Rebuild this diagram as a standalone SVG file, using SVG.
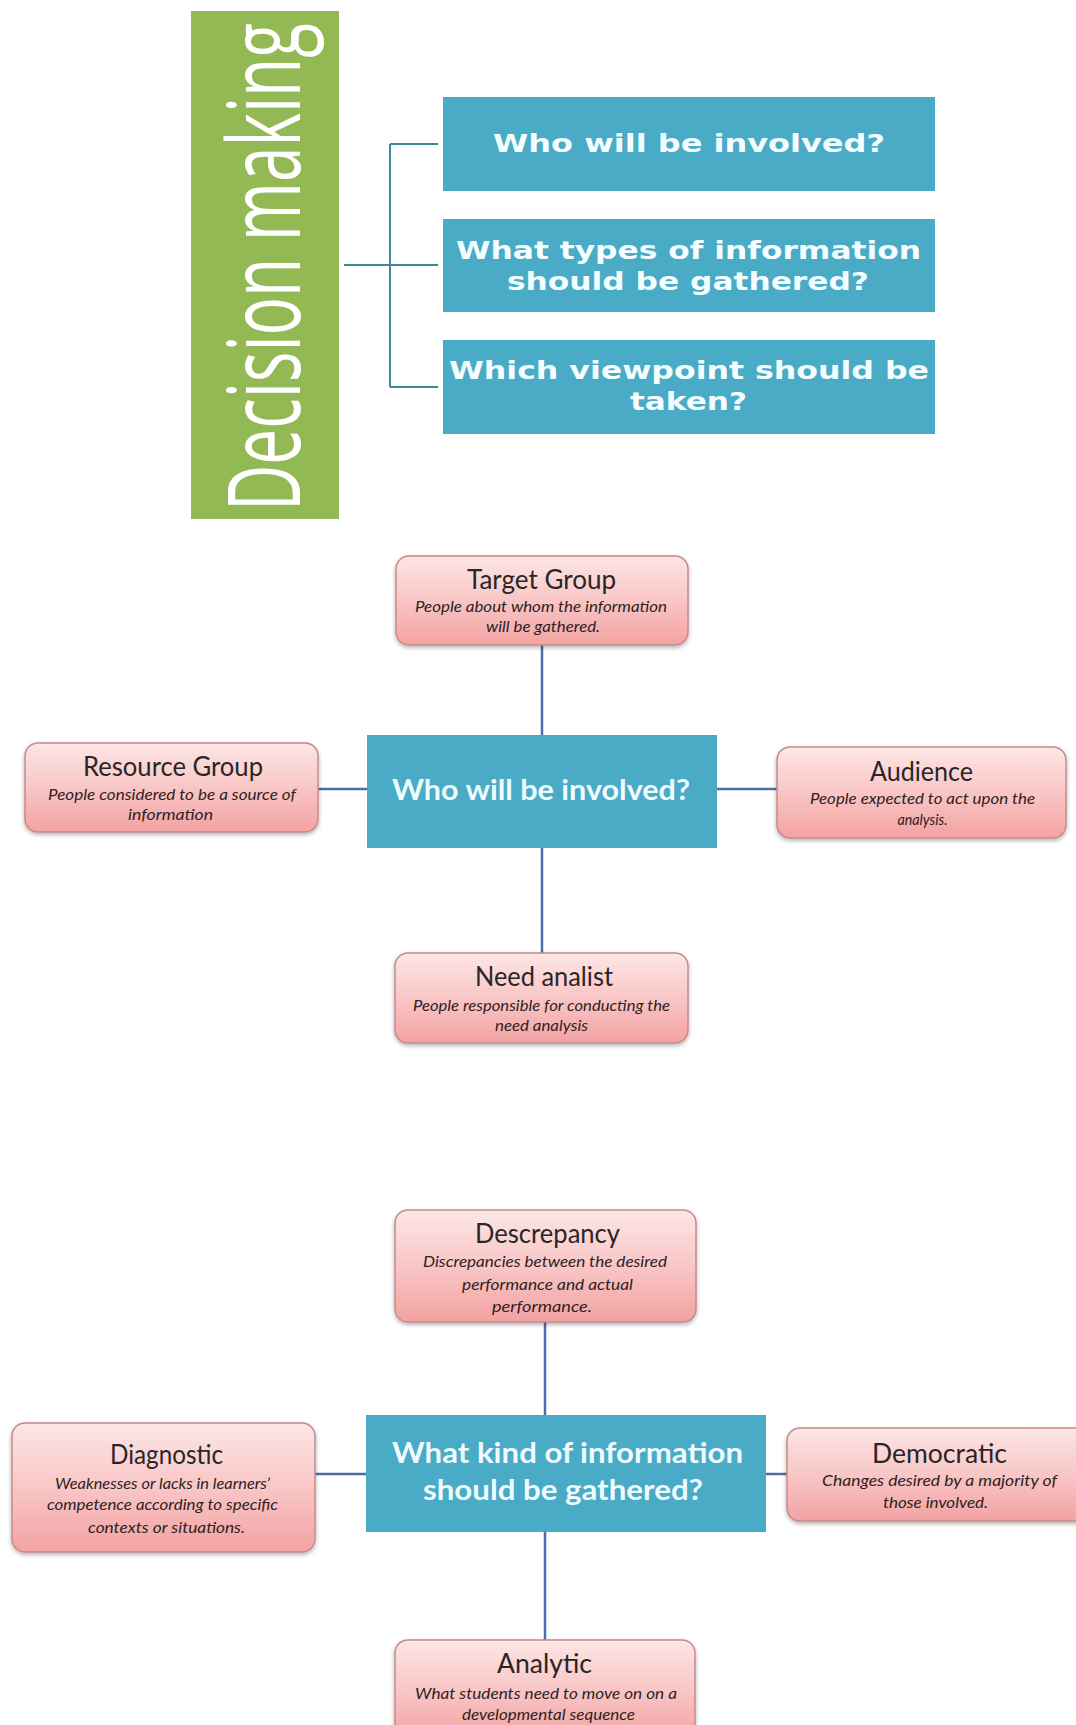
<svg xmlns="http://www.w3.org/2000/svg" width="1076" height="1725" viewBox="0 0 1076 1725">
<defs>
<linearGradient id="pink" x1="0" y1="0" x2="0" y2="1">
<stop offset="0" stop-color="#fde6e6"/>
<stop offset="0.5" stop-color="#f9c6c6"/>
<stop offset="1" stop-color="#f3a2a2"/>
</linearGradient>
<filter id="sh" x="-10%" y="-10%" width="120%" height="135%">
<feDropShadow dx="0" dy="2" stdDeviation="2" flood-color="#000" flood-opacity="0.3"/>
</filter>
<style>
.pbox{fill:url(#pink);stroke:#c68a8a;stroke-width:1.5;filter:url(#sh)}
.bbox{fill:#4aabc7}
.ttl{font-family:Lato,"Open Sans",sans-serif;font-size:27px;fill:#2a2626;text-anchor:middle}
.sub{font-family:Lato,"Open Sans",sans-serif;font-style:italic;font-size:14.5px;fill:#2e2222;text-anchor:middle}
.ctr{font-family:Lato,"Open Sans",sans-serif;font-weight:bold;font-size:29px;fill:#eefcff;text-anchor:middle}
.top{font-family:"DejaVu Sans",Verdana,sans-serif;font-weight:bold;font-size:24px;fill:#f4fdff;text-anchor:middle}
.big{font-family:"Open Sans",Lato,sans-serif;font-size:101px;fill:#ffffff}
.c1{stroke:#3f8a9a;stroke-width:2;fill:none}
.c2{stroke:#4d6ea6;stroke-width:2.5;fill:none}
</style>
</defs>
<rect width="1076" height="1725" fill="#ffffff"/>

<g id="decision-making">
<rect x="191" y="11" width="148" height="508" fill="#93b955"/>
<text class="big" transform="translate(300,511) rotate(-90)" x="0" y="0" textLength="488" lengthAdjust="spacingAndGlyphs">Decision making</text>
</g>

<g id="connectors">
<path class="c1" d="M344,265 H438 M390,144 V387 M390,144 H438 M390,387 H438"/>
<path class="c2" d="M542,645 V735 M542,848 V953 M318,789 H367 M717,789 H777"/>
<path class="c2" d="M545,1322 V1415 M545,1532 V1640 M315,1474 H366 M766,1474 H787"/>
</g>

<g id="q1">
<rect class="bbox" x="443" y="97" width="492" height="94"/>
<text class="top" x="689" y="152" textLength="392" lengthAdjust="spacingAndGlyphs">Who will be involved?</text>
</g>
<g id="q2">
<rect class="bbox" x="443" y="219" width="492" height="93"/>
<text class="top" x="688.5" y="259" textLength="465" lengthAdjust="spacingAndGlyphs">What types of information</text>
<text class="top" x="688" y="290" textLength="362" lengthAdjust="spacingAndGlyphs">should be gathered?</text>
</g>
<g id="q3">
<rect class="bbox" x="443" y="340" width="492" height="94"/>
<text class="top" x="689" y="379" textLength="480" lengthAdjust="spacingAndGlyphs">Which viewpoint should be</text>
<text class="top" x="688.5" y="410" textLength="117" lengthAdjust="spacingAndGlyphs">taken?</text>
</g>

<g id="who-center">
<rect class="bbox" x="367" y="735" width="350" height="113"/>
<text class="ctr" x="541" y="800" textLength="298" lengthAdjust="spacingAndGlyphs">Who will be involved?</text>
</g>

<g id="target-group">
<rect class="pbox" x="396" y="556" width="292" height="89" rx="13"/>
<text class="ttl" x="541.5" y="589" textLength="149" lengthAdjust="spacingAndGlyphs">Target Group</text>
<text class="sub" x="541" y="612" textLength="252" lengthAdjust="spacingAndGlyphs">People about whom the information</text>
<text class="sub" x="543" y="632" textLength="114" lengthAdjust="spacingAndGlyphs">will be gathered.</text>
</g>

<g id="resource-group">
<rect class="pbox" x="25" y="743" width="293" height="89" rx="13"/>
<text class="ttl" x="173" y="776" textLength="180" lengthAdjust="spacingAndGlyphs">Resource Group</text>
<text class="sub" x="172" y="800" textLength="248" lengthAdjust="spacingAndGlyphs">People considered to be a source of</text>
<text class="sub" x="170.5" y="820" textLength="85" lengthAdjust="spacingAndGlyphs">information</text>
</g>

<g id="audience">
<rect class="pbox" x="777" y="747" width="289" height="91" rx="13"/>
<text class="ttl" x="921.5" y="781" textLength="103" lengthAdjust="spacingAndGlyphs">Audience</text>
<text class="sub" x="922.5" y="804" textLength="225" lengthAdjust="spacingAndGlyphs">People expected to act upon the</text>
<text class="sub" x="922.5" y="825" textLength="50" lengthAdjust="spacingAndGlyphs">analysis.</text>
</g>

<g id="need-analist">
<rect class="pbox" x="395" y="953" width="293" height="90" rx="13"/>
<text class="ttl" x="544" y="986" textLength="138" lengthAdjust="spacingAndGlyphs">Need analist</text>
<text class="sub" x="541.5" y="1011" textLength="257" lengthAdjust="spacingAndGlyphs">People responsible for conducting the</text>
<text class="sub" x="541.5" y="1031" textLength="93" lengthAdjust="spacingAndGlyphs">need analysis</text>
</g>

<g id="what-center">
<rect class="bbox" x="366" y="1415" width="400" height="117"/>
<text class="ctr" x="567.5" y="1463" textLength="351" lengthAdjust="spacingAndGlyphs">What kind of information</text>
<text class="ctr" x="563" y="1500" textLength="280" lengthAdjust="spacingAndGlyphs">should be gathered?</text>
</g>

<g id="descrepancy">
<rect class="pbox" x="395" y="1210" width="301" height="112" rx="13"/>
<text class="ttl" x="547.5" y="1243" textLength="145" lengthAdjust="spacingAndGlyphs">Descrepancy</text>
<text class="sub" x="545" y="1267" textLength="244" lengthAdjust="spacingAndGlyphs">Discrepancies between the desired</text>
<text class="sub" x="547.5" y="1290" textLength="171" lengthAdjust="spacingAndGlyphs">performance and actual</text>
<text class="sub" x="542" y="1312" textLength="100" lengthAdjust="spacingAndGlyphs">performance.</text>
</g>

<g id="diagnostic">
<rect class="pbox" x="12" y="1423" width="303" height="129" rx="13"/>
<text class="ttl" x="166.5" y="1464" textLength="113" lengthAdjust="spacingAndGlyphs">Diagnostic</text>
<text class="sub" x="162.5" y="1489" textLength="215" lengthAdjust="spacingAndGlyphs">Weaknesses or lacks in learners’</text>
<text class="sub" x="162.5" y="1510" textLength="231" lengthAdjust="spacingAndGlyphs">competence according to specific</text>
<text class="sub" x="166.5" y="1533" textLength="157" lengthAdjust="spacingAndGlyphs">contexts or situations.</text>
</g>

<g id="democratic">
<rect class="pbox" x="787" y="1428" width="306" height="93" rx="13"/>
<text class="ttl" x="939.5" y="1463" textLength="135" lengthAdjust="spacingAndGlyphs">Democratic</text>
<text class="sub" x="939.5" y="1486" textLength="235" lengthAdjust="spacingAndGlyphs">Changes desired by a majority of</text>
<text class="sub" x="935.5" y="1508" textLength="105" lengthAdjust="spacingAndGlyphs">those involved.</text>
</g>

<g id="analytic">
<rect class="pbox" x="395" y="1640" width="300" height="100" rx="13"/>
<text class="ttl" x="544.5" y="1673" textLength="95" lengthAdjust="spacingAndGlyphs">Analytic</text>
<text class="sub" x="546" y="1699" textLength="262" lengthAdjust="spacingAndGlyphs">What students need to move on on a</text>
<text class="sub" x="548.5" y="1720" textLength="173" lengthAdjust="spacingAndGlyphs">developmental sequence</text>
</g>
</svg>
